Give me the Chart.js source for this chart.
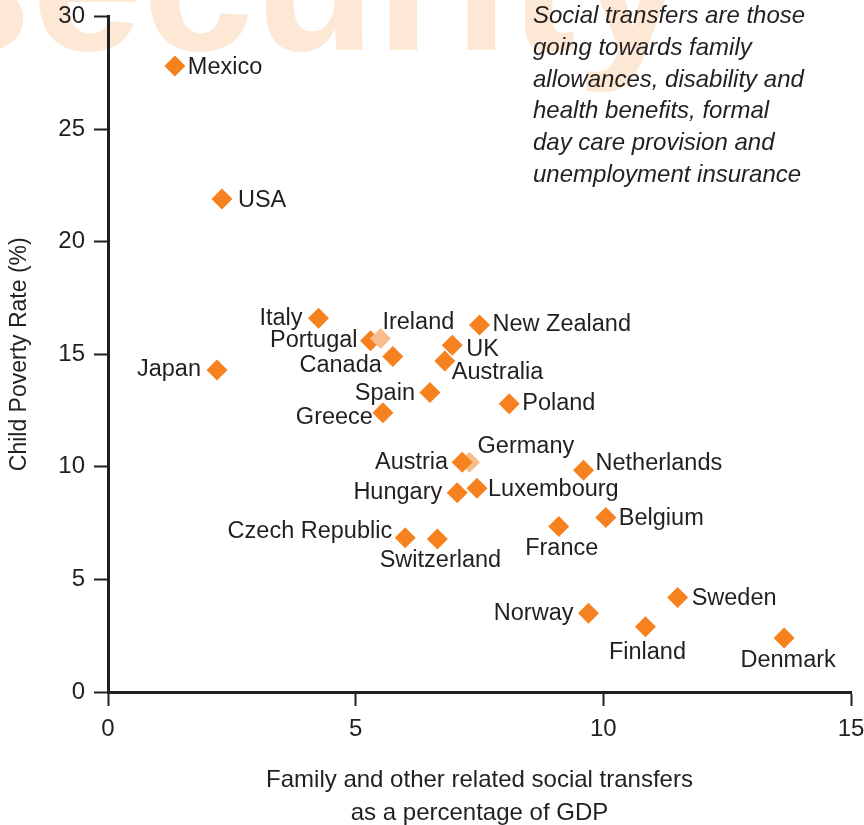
<!DOCTYPE html>
<html>
<head>
<meta charset="utf-8">
<script src="https://cdn.jsdelivr.net/npm/chart.js@4.4.1/dist/chart.umd.min.js"></script>
<style>
  html, body { margin: 0; padding: 0; background: #fff; }
  #wrap { width: 864px; height: 825px; }
</style>
</head>
<body>
<div id="wrap"><canvas id="myChart" width="864" height="825"></canvas></div>
<script>
// chart data
var countries = ['Mexico','USA','Japan','Italy','Portugal','Ireland','Canada','Spain','Greece','UK',
  'Australia','New Zealand','Poland','Germany','Austria','Hungary','Luxembourg','Netherlands',
  'Belgium','Czech Republic','Switzerland','France','Norway','Sweden','Finland','Denmark']
var transfers = [1.35, 2.3, 2.2, 4.25, 5.3, 5.5, 5.75, 6.5, 5.55, 6.95,
  6.8, 7.5, 8.1, 7.3, 7.15, 7.05, 7.45, 9.6,
  10.05, 6.0, 6.65, 9.1, 9.7, 11.5, 10.85, 13.65]
var poverty = [27.8, 21.9, 14.3, 16.6, 15.6, 15.7, 14.9, 13.3, 12.4, 15.4,
  14.7, 16.3, 12.8, 10.2, 10.2, 8.85, 9.05, 9.85,
  7.75, 6.85, 6.8, 7.35, 3.5, 4.2, 2.9, 2.4]
// points shown in the lighter shade
var lightOnes = ['Ireland','Germany']

var xTicks = [0, 5, 10, 15]
var yTicks = [0, 5, 10, 15, 20, 25, 30]

var note = ['Social transfers are those','going towards family','allowances, disability and',
  'health benefits, formal','day care provision and','unemployment insurance']

// label placement: [align, dx, dy]
var labelPlace = {
  'Mexico':['left',13,1], 'USA':['left',16,2], 'Japan':['right',-16,0], 'Italy':['right',-16,0],
  'Portugal':['right',-13,0], 'Ireland':['left',2,-16], 'Canada':['right',-11,9], 'Spain':['right',-15,1],
  'Greece':['right',-10,5], 'UK':['left',14,4], 'Australia':['left',7,12], 'New Zealand':['left',13,0],
  'Poland':['left',13,0], 'Germany':['left',8,-16], 'Austria':['right',-14,0], 'Hungary':['right',-15,0],
  'Luxembourg':['left',11,1], 'Netherlands':['left',12,-7], 'Belgium':['left',13,1],
  'Czech Republic':['right',-13,-6], 'Switzerland':['center',3,22], 'France':['center',3,22],
  'Norway':['right',-15,0], 'Sweden':['left',14,1], 'Finland':['center',2,26], 'Denmark':['center',4,23]
}

var ink = '#231f20'
var orange = '#f5821f'
var lightOrange = '#f9bc8c'
var fam = '"Liberation Sans", Arial, sans-serif'

var pts = []
var colors = []
for (var i = 0; i < countries.length; i++) {
    pts.push({x: transfers[i], y: poverty[i]})
    colors.push(lightOnes.indexOf(countries[i]) >= 0 ? lightOrange : orange)
}

var backdrop = {
    id: 'backdrop',
    beforeDraw: function(chart) {
        var c = chart.ctx
        c.save()
        c.fillStyle = '#fff'
        c.fillRect(0, 0, chart.width, chart.height)
        c.fillStyle = '#fde8d5'
        c.font = 'bold 200px ' + fam
        c.textBaseline = 'alphabetic'
        c.textAlign = 'left'
        c.fillText('security', -80, 50)
        c.restore()
    }
}

var labeller = {
    id: 'labeller',
    afterDatasetsDraw: function(chart) {
        var c = chart.ctx
        var meta = chart.getDatasetMeta(0)
        c.save()
        c.fillStyle = ink
        c.font = '23.5px ' + fam
        c.textBaseline = 'middle'
        for (var i = 0; i < countries.length; i++) {
            var p = meta.data[i]
            var pl = labelPlace[countries[i]]
            c.textAlign = pl[0]
            c.fillText(countries[i], p.x + pl[1], p.y + pl[2])
        }
        // side note
        c.font = 'italic 24px ' + fam
        c.textAlign = 'left'
        c.textBaseline = 'alphabetic'
        for (var j = 0; j < note.length; j++) {
            c.fillText(note[j], 533, 23 + j * 31.8)
        }
        c.restore()
    }
}

function noPad(s) {
    s.paddingTop = 0
    s.paddingBottom = 0
    s.paddingLeft = 0
    s.paddingRight = 0
}

function chartdrawer(ctx)
{
    var myChart = new Chart(ctx, {
        type: 'scatter',
        data: {
            datasets: [{
                label: 'Child poverty',
                data: pts,
                pointStyle: 'rectRot',
                pointRadius: 10.5,
                pointHoverRadius: 10.5,
                borderWidth: 0,
                backgroundColor: colors,
                borderColor: colors
            }]
        },
        plugins: [backdrop, labeller],
        options: {
            responsive: false,
            animation: false,
            events: [],
            layout: { padding: { left: 0, right: 13, top: 16.5, bottom: 0 } },
            plugins: { legend: { display: false }, tooltip: { enabled: false } },
            scales: {
                x: {
                    type: 'linear',
                    min: 0, max: 15,
                    afterFit: function(s) { s.height = 133; noPad(s) },
                    afterBuildTicks: function(s) { s.ticks = xTicks.map(function(v) { return {value: v} }) },
                    grid: { drawOnChartArea: false, drawTicks: true, tickLength: 14, tickWidth: 2, tickColor: ink },
                    border: { display: true, width: 3, color: ink },
                    ticks: { color: ink, padding: 9, font: { family: fam, size: 24 } },
                    title: {
                        display: true,
                        text: ['Family and other related social transfers', 'as a percentage of GDP'],
                        color: ink,
                        font: { family: fam, size: 24, lineHeight: 1.375 },
                        padding: { top: 0, bottom: -5 }
                    }
                },
                y: {
                    type: 'linear',
                    min: 0, max: 30,
                    afterFit: function(s) { s.width = 108; noPad(s) },
                    afterBuildTicks: function(s) { s.ticks = yTicks.map(function(v) { return {value: v} }) },
                    grid: { drawOnChartArea: false, drawTicks: true, tickLength: 14, tickWidth: 2, tickColor: ink },
                    border: { display: true, width: 3, color: ink },
                    ticks: { color: ink, padding: 9, font: { family: fam, size: 24 } },
                    title: {
                        display: true,
                        text: 'Child Poverty Rate (%)',
                        color: ink,
                        font: { family: fam, size: 23 },
                        padding: { top: 6, bottom: 0 }
                    }
                }
            }
        }
    });
}

var ctx = document.getElementById('myChart').getContext('2d');
chartdrawer(ctx);
</script>
</body>
</html>
